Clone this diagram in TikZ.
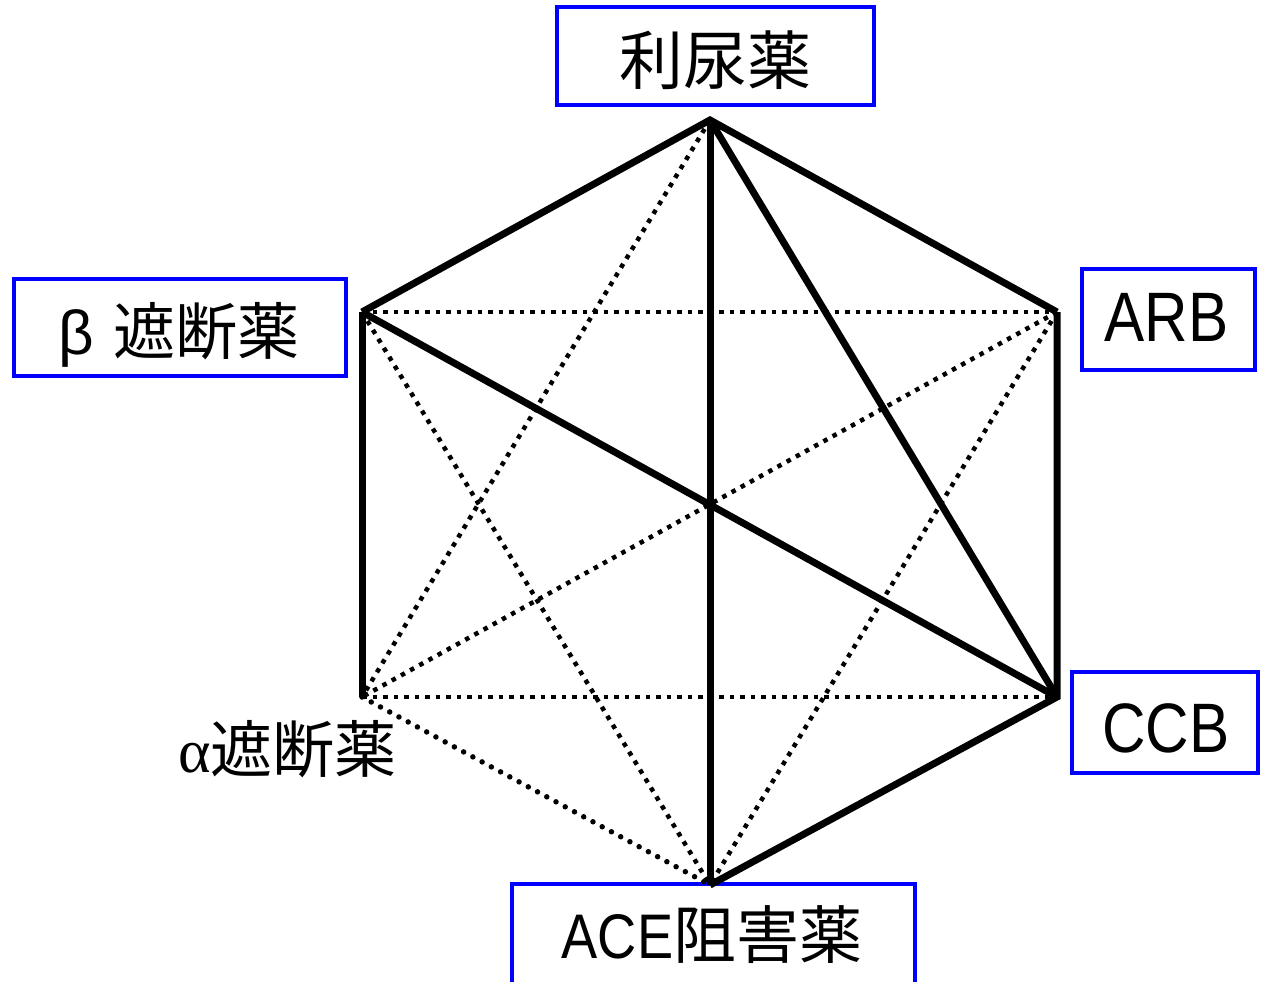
\documentclass[tikz,border=0pt]{standalone}
\usepackage{fontspec}
\setmainfont{Liberation Sans}
\newfontfamily\cjk{Noto Sans CJK JP}
\newfontfamily\lat[FakeStretch=0.86]{Liberation Sans}
\newfontfamily\grk{Liberation Serif}
\definecolor{boxblue}{RGB}{0,0,255}
\begin{document}
\begin{tikzpicture}[x=1pt,y=-1pt,
  bx/.style={draw=boxblue, line width=4.5pt, inner sep=0pt},
  lbl/.style={inner sep=0pt, anchor=center},
  solidln/.style={line width=7pt},
  dotln/.style={line width=4.5pt, dash pattern=on 4.5pt off 6pt},
  rdotln/.style={line width=5.5pt, line cap=round, dash pattern=on 0pt off 10.5pt}]
\clip (0,0) rectangle (1264,982);
\fill[white] (0,0) rectangle (1264,982);
% boxes
\node[bx, minimum width=317pt, minimum height=98pt] (diubox) at (715.5,56) {};
\node[bx, minimum width=332pt, minimum height=97pt] (betabox) at (180,327.5) {};
\node[bx, minimum width=173pt, minimum height=101pt] (arbbox) at (1168.5,319.5) {};
\node[bx, minimum width=186pt, minimum height=101pt] (ccbbox) at (1165,722.5) {};
\node[bx, minimum width=403pt, minimum height=150pt] (acebox) at (713.5,959) {};
% labels
\node[lbl] (diu) at (715.5,60) {\fontsize{64}{64}\selectfont\cjk 利尿薬};
\node[lbl] (beta) at (179,335) {\fontsize{62}{62}\selectfont β\hspace{0.3em}{\cjk 遮断薬}};
\node[lbl] (arb) at (1166.5,317.5) {\fontsize{70}{70}\selectfont\lat ARB};
\node[lbl] (ccb) at (1166,728) {\fontsize{70}{70}\selectfont\lat CCB};
\node[lbl] (ace) at (712,935) {\fontsize{63}{63}\selectfont{\lat ACE}{\cjk 阻害薬}};
\node[lbl] (alpha) at (287.5,749) {\fontsize{62}{62}\selectfont{\grk α}{\cjk 遮断薬}};
% vertices
\coordinate (T) at (710,120);
\coordinate (UL) at (362,312);
\coordinate (UR) at (1057,312);
\coordinate (LL) at (362,697);
\coordinate (LR) at (1057,697);
\coordinate (B) at (710,885);
% dotted
\draw[dotln] (UL) -- (UR);
\draw[dotln] (LL) -- (LR);
\draw[dotln] (T) -- (LL);
\draw[dotln] (UL) -- (B);
\draw[dotln] (UR) -- (LL);
\draw[dotln] (UR) -- (B);
\draw[rdotln] (LL) -- (B);
% solid
\draw[solidln] (UL) -- (T) -- (UR);
\draw[solidln] (T) -- (B);
\draw[solidln] (T) -- (LR);
\draw[solidln] (UL) -- (LR);
\draw[solidln] (UL) -- (LL);
\draw[solidln] (UR) -- (LR) -- (B);
\end{tikzpicture}
\end{document}
